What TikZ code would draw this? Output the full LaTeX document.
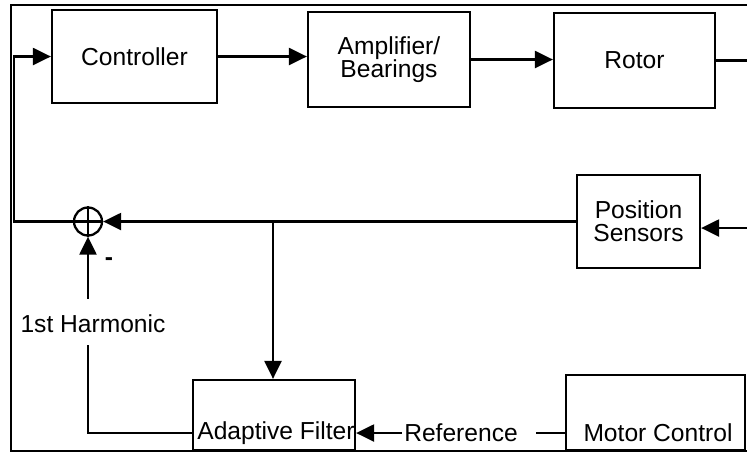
\documentclass[tikz,border=0pt]{standalone}
\usepackage{fontspec}
\setmainfont{Liberation Sans}
\usetikzlibrary{arrows.meta}

\begin{document}
\begin{tikzpicture}[x=0.02cm,y=-0.02cm,
  blockbox/.style={draw,line width=1.3pt,align=center,inner sep=0pt},
  txt/.style={inner sep=1pt,align=center},
  sig/.style={line width=1.3pt},
  arr/.style={sig,-{Triangle[length=0.36cm,width=0.34cm]}},
  every node/.style={font=\fontsize{14}{13.2}\selectfont}]

\useasboundingbox (0,0) rectangle (747,454);

% Cadre
\draw[line width=0.9pt] (747,5) -- (11,5) -- (11,451) -- (747,451);

% Chaine directe
\node[blockbox,minimum width=3.3cm,minimum height=1.86cm] (ctrl) at (134.5,56.5) {Controller};
\node[blockbox,minimum width=3.24cm,minimum height=1.9cm] (amp) at (389,59.5) {Amplifier/\\Bearings};
\node[blockbox,minimum width=3.22cm,minimum height=1.9cm] (rotor) at (634.5,60.5) {Rotor};

\draw[arr] (ctrl.east) -- (ctrl.east -| amp.west);
\draw[arr] (amp.east) -- (amp.east -| rotor.west);
\coordinate (rotout) at (747,60.5);
\draw[sig] (rotor.east) -- (rotout);

% Retour
\node[blockbox,minimum width=2.46cm,minimum height=1.86cm] (pos) at (638.5,221.5) {Position\\Sensors};
\coordinate (posin) at (747,228);
\draw[arr] (posin) -- (posin -| pos.east);

\node[draw,circle,line width=1.3pt,minimum size=0.56cm,inner sep=0pt] (sum) at (88,221.5) {};
\draw[line width=1.3pt] (sum.north) -- (sum.south) (sum.west) -- (sum.east);

\draw[arr] (pos.west) -- (sum.east);
\draw[arr] (sum.west) -- ++(-59,0) |- (ctrl.west);

% Filtre adaptatif
\node[blockbox,minimum width=3.24cm,minimum height=1.4cm] (adapt) at (274,415) {};
\node[txt] (adapttxt) at (276,433) {Adaptive Filter};

\node[blockbox,minimum width=3.58cm,minimum height=1.5cm] (motor) at (655.5,412.5) {};
\node[txt] (motortxt) at (658,433) {Motor Control};

\coordinate (branch) at (273,221.5);
\draw[arr] (branch) -- (branch |- adapt.north);

\node[txt] (reftxt) at (461,433) {Reference};
\draw[arr] (reftxt.west) -- (reftxt.west -| adapt.east);
\draw[sig] (motor.west |- reftxt) -- ++(-29,0);

% Premier harmonique
\node[txt] (harm) at (93,324) {1st Harmonic};
\node[txt] (minus) at (109,262) {\textbf{-}};
\draw[arr] (sum.south |- harm.north) ++(0,-14) -- (sum.south);
\draw[sig] (adapt.west |- adapttxt) -| ([yshift=-0.2cm]sum.south |- harm.south);

\end{tikzpicture}
\end{document}
